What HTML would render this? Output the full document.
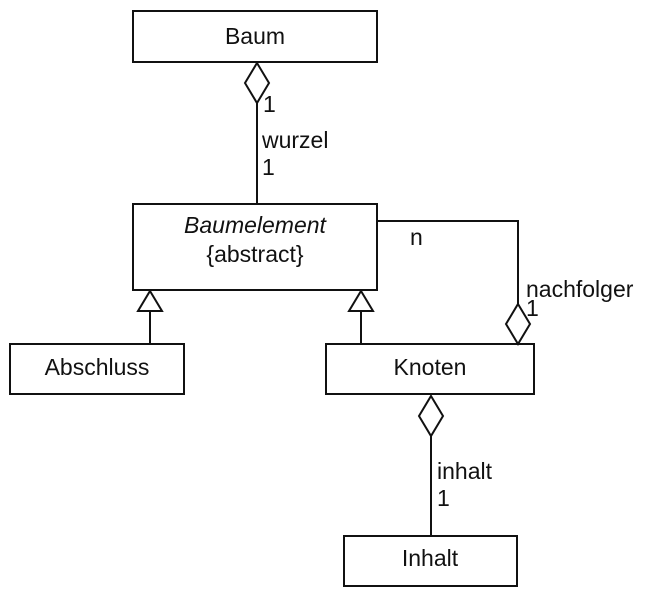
<!DOCTYPE html>
<html><head><meta charset="utf-8"><style>
html,body{margin:0;padding:0;background:#fff;}
svg{display:block;}
text{font-family:"Liberation Sans",Arial,sans-serif;font-size:23px;fill:#111;}
</style></head><body>
<svg width="648" height="599" viewBox="0 0 648 599" xmlns="http://www.w3.org/2000/svg">
<g fill="#fff" stroke="#111" stroke-width="2">
<rect x="133" y="11" width="244" height="51"/>
<rect x="133" y="204" width="244" height="86"/>
<rect x="10" y="344" width="174" height="50"/>
<rect x="326" y="344" width="208" height="50"/>
<rect x="344" y="536" width="173" height="50"/>
</g>
<g fill="none" stroke="#111" stroke-width="2">
<line x1="257" y1="103" x2="257" y2="204"/>
<polyline points="377,221 518,221 518,305"/>
<line x1="150" y1="311" x2="150" y2="344"/>
<line x1="361" y1="311" x2="361" y2="344"/>
<line x1="431" y1="436" x2="431" y2="536"/>
</g>
<g fill="#fff" stroke="#111" stroke-width="2">
<polygon points="257,63 269,83 257,103 245,83"/>
<polygon points="518,304 530,324 518,344 506,324"/>
<polygon points="431,396 443,416 431,436 419,416"/>
<polygon points="150,291 162,311 138,311"/>
<polygon points="361,291 373,311 349,311"/>
</g>
<text x="255" y="44" text-anchor="middle">Baum</text>
<text x="255" y="233" text-anchor="middle" font-style="italic">Baumelement</text>
<text x="255" y="262" text-anchor="middle">{abstract}</text>
<text x="97" y="375" text-anchor="middle">Abschluss</text>
<text x="430" y="375" text-anchor="middle">Knoten</text>
<text x="430" y="566" text-anchor="middle">Inhalt</text>
<text x="263" y="112">1</text>
<text x="262" y="148">wurzel</text>
<text x="262" y="175">1</text>
<text x="410" y="245">n</text>
<text x="526" y="297">nachfolger</text>
<text x="526" y="316">1</text>
<text x="437" y="479">inhalt</text>
<text x="437" y="506">1</text>
</svg>
</body></html>
